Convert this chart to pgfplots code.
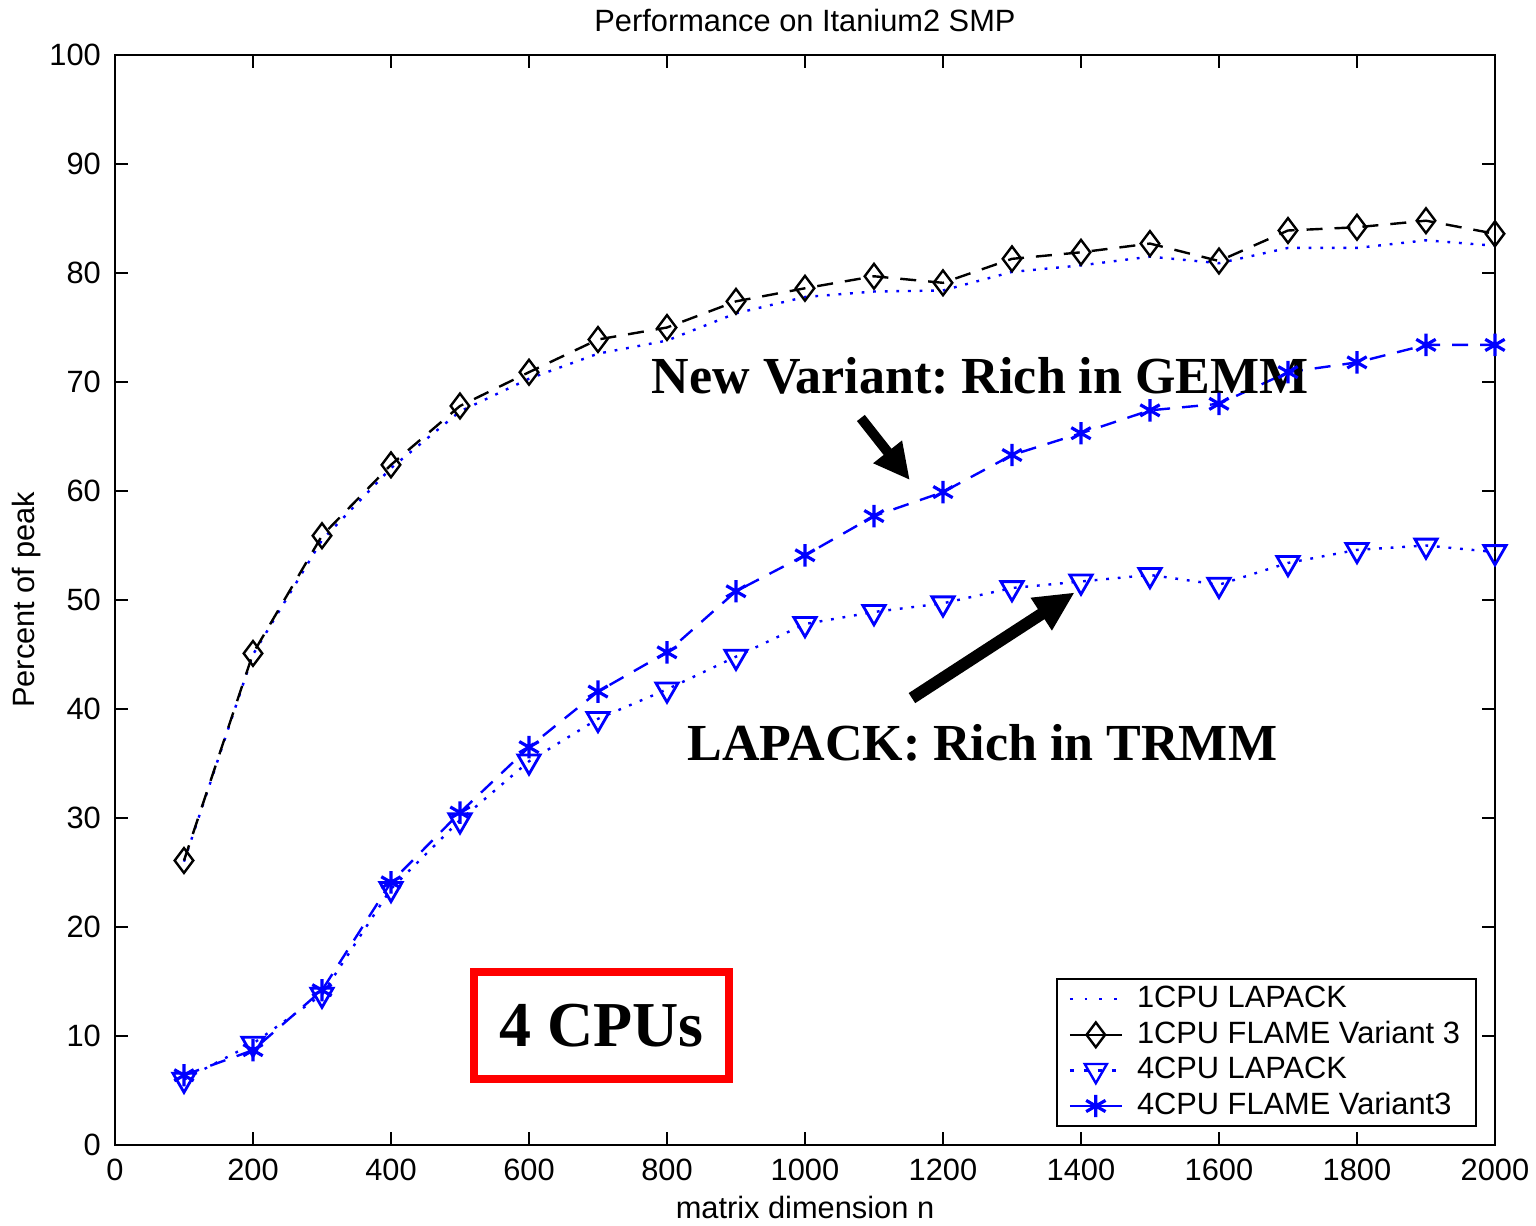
\documentclass[border=0pt]{standalone}
\usepackage{pgfplots}
\pgfplotsset{compat=1.18}
\usepackage{fontspec}
\setmainfont{Liberation Sans}
\newfontfamily\anno{Liberation Serif}
\usetikzlibrary{arrows.meta}
\definecolor{mblue}{RGB}{0,0,255}
\frenchspacing
\begin{document}
\begin{tikzpicture}
\begin{axis}[
  at={(0,0)}, anchor=south west,
  scale only axis, width=345pt, height=272.5pt,
  xmin=0, xmax=2000, ymin=0, ymax=100,
  xtick={0,200,...,2000}, ytick={0,10,...,100},
  tick align=inside, xtick pos=both, ytick pos=both,
  major tick length=3.3pt,
  tick style={black, line width=0.5pt},
  axis line style={line width=0.6pt},
  /pgf/number format/assume math mode=true,
  /pgf/number format/set thousands separator={},
  tick label style={font=\fontsize{7.7}{9}\selectfont},
  xlabel={matrix dimension n},
  xlabel style={font=\fontsize{7.7}{9}\selectfont, at={(axis description cs:0.5,-0.057)}, anchor=center},
  ylabel={Percent of peak},
  ylabel style={font=\fontsize{7.7}{9}\selectfont, at={(axis description cs:-0.064,0.5)}, anchor=center},
  clip=false,
  legend image code/.code={\draw[mark repeat=2,mark phase=2,#1] plot coordinates {(0pt,0pt) (6.5pt,0pt) (13pt,0pt)};},
  legend style={at={(1,0)}, anchor=south east, xshift=-4.5pt, yshift=4.5pt,
    font=\fontsize{7.7}{9}\selectfont, draw=black, line width=0.5pt, fill=white,
    inner xsep=3pt, inner ysep=0.8pt,
    nodes={inner xsep=1pt, inner ysep=0.3pt, text height=6pt, text depth=1.8pt},
    row sep=0.5pt,
    /tikz/every odd column/.append style={column sep=2.5pt}},
  legend cell align=left,
]
% 1CPU LAPACK
\addplot[mblue, line width=0.6pt, dash pattern=on 0.7pt off 2.2pt, forget plot] coordinates {
(100,26.0) (200,45.0) (300,55.5) (400,62.1) (500,67.3) (600,70.3) (700,72.6) (800,73.8) (900,76.3) (1000,77.8)
(1100,78.3) (1200,78.4) (1300,80.1) (1400,80.7) (1500,81.5) (1600,80.9) (1700,82.3) (1800,82.3) (1900,83.0) (2000,82.5)};
% 1CPU FLAME Variant 3
\addplot[black, line width=0.6pt, dash pattern=on 4pt off 3pt, mark=diamond, mark size=3.1pt, mark options={solid, line width=0.6pt, fill=none}, forget plot] coordinates {
(100,26.1) (200,45.1) (300,55.9) (400,62.4) (500,67.8) (600,70.9) (700,73.9) (800,75.0) (900,77.4) (1000,78.6)
(1100,79.7) (1200,79.1) (1300,81.3) (1400,81.9) (1500,82.7) (1600,81.1) (1700,83.9) (1800,84.2) (1900,84.8) (2000,83.6)};
% 4CPU LAPACK
\addplot[mblue, line width=0.6pt, dash pattern=on 0.7pt off 2.2pt, mark=triangle, mark size=3.2pt, mark options={solid, rotate=180, line width=0.7pt, fill=none}, forget plot] coordinates {
(100,6.0) (200,9.3) (300,13.8) (400,23.5) (500,29.8) (600,35.2) (700,39.1) (800,41.8) (900,44.8) (1000,47.8)
(1100,48.9) (1200,49.7) (1300,51.1) (1400,51.7) (1500,52.3) (1600,51.4) (1700,53.4) (1800,54.6) (1900,55.0) (2000,54.4)};
% 4CPU FLAME Variant3
\addplot[mblue, line width=0.6pt, dash pattern=on 4pt off 3pt, mark=asterisk, mark size=2.8pt, mark options={solid, line width=0.8pt}, forget plot] coordinates {
(100,6.4) (200,8.7) (300,14.2) (400,24.1) (500,30.5) (600,36.5) (700,41.6) (800,45.2) (900,50.8) (1000,54.1)
(1100,57.7) (1200,59.9) (1300,63.3) (1400,65.3) (1500,67.4) (1600,68.0) (1700,70.9) (1800,71.8) (1900,73.4) (2000,73.4)};

\addlegendimage{mblue, line width=0.6pt, dash pattern=on 0.7pt off 3pt}
\addlegendentry{1CPU LAPACK}
\addlegendimage{black, line width=0.6pt, solid, mark=diamond, mark size=3.1pt, mark options={fill=white}}
\addlegendentry{1CPU FLAME Variant 3}
\addlegendimage{mblue, line width=0.6pt, dash pattern=on 1pt off 2.5pt, mark=triangle, mark size=3.2pt, mark options={solid, rotate=180, fill=white}}
\addlegendentry{4CPU LAPACK}
\addlegendimage{mblue, line width=0.6pt, solid, mark=asterisk, mark size=2.8pt, mark options={line width=0.8pt}}
\addlegendentry{4CPU FLAME Variant3}

% title
\node[font=\fontsize{7.7}{9}\selectfont, inner sep=0pt] at (axis description cs:0.5,1.032) {Performance on Itanium2 SMP};
% annotations
\node[font=\anno\bfseries\fontsize{13}{15}\selectfont, text=black] at (axis cs:1254,70.6) {New Variant: Rich in GEMM};
\node[font=\anno\bfseries\fontsize{13}{15}\selectfont, text=black] at (axis cs:1257,36.9) {LAPACK: Rich in TRMM};
\draw[black, line width=2.5pt, -{Triangle[length=9pt,width=8.5pt]}] (axis cs:1081,66.7) -- (axis cs:1152,61.0);
\draw[black, line width=3pt, -{Triangle[length=10pt,width=9pt]}] (axis cs:1155,41.0) -- (axis cs:1391,50.7);
\node[draw=red, line width=2pt, fill=white, minimum width=63.75pt, minimum height=26.75pt, inner sep=0pt,
      font=\anno\bfseries\fontsize{16}{18}\selectfont] at (axis cs:705,10.96) {4 CPUs};
\end{axis}
\pgfresetboundingbox
\path[use as bounding box] (-28.75pt,-20pt) rectangle (355.25pt,286.25pt);
\end{tikzpicture}
\end{document}
